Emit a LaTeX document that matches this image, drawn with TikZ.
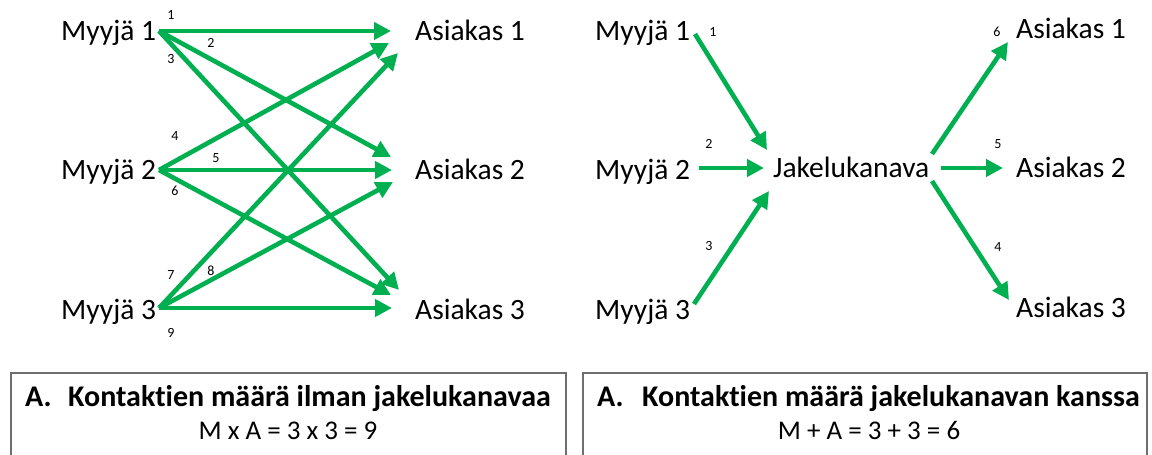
\documentclass[tikz,border=0pt]{standalone}
\usepackage{fontspec}
\setmainfont{Carlito}[Ligatures={NoCommon,NoRequired,NoContextual}]
\usetikzlibrary{arrows.meta}
\definecolor{grn}{RGB}{0,176,80}
\definecolor{boxgray}{RGB}{110,110,110}
\begin{document}
\begin{tikzpicture}[x=1pt,y=-1pt,
  big/.style={font=\fontsize{29.5}{34}\selectfont, anchor=base west, inner sep=0pt},
  num/.style={font=\fontsize{14}{16}\selectfont, inner sep=0pt},
  arr/.style={draw=grn, line width=4.6pt, -{Triangle[length=17pt,width=17pt]}},
  boxline/.style={draw=boxgray, line width=1.2pt},
  head/.style={font=\fontsize{30}{35}\selectfont\bfseries, anchor=base west, inner sep=0pt},
  formula/.style={font=\fontsize{27}{32}\selectfont, anchor=base, inner sep=0pt}
]
\useasboundingbox (0,0) rectangle (1152,455);

% ---------- left panel ----------
\node[big] (lm1) at (61,40) {Myyjä 1};
\node[big] (lm2) at (61,179.5) {Myyjä 2};
\node[big] (lm3) at (61,319) {Myyjä 3};
\node[big] (la1) at (415,40) {Asiakas 1};
\node[big] (la2) at (415,179.5) {Asiakas 2};
\node[big] (la3) at (415,319) {Asiakas 3};

\coordinate (ls1) at (159,31);
\coordinate (ls2) at (159,170);
\coordinate (ls3) at (159,308);
\coordinate (t11) at (391,31);
\coordinate (t12) at (391,157);
\coordinate (t13) at (399,290);
\coordinate (t21) at (389,43);
\coordinate (t22) at (392,170);
\coordinate (t23) at (391,295);
\coordinate (t31) at (398,53);
\coordinate (t32) at (393,182);
\coordinate (t33) at (392,308);

\draw[arr] (ls1) -- (t11);
\draw[arr] (ls1) -- (t12);
\draw[arr] (ls1) -- (t13);
\draw[arr] (ls2) -- (t21);
\draw[arr] (ls2) -- (t22);
\draw[arr] (ls2) -- (t23);
\draw[arr] (ls3) -- (t31);
\draw[arr] (ls3) -- (t32);
\draw[arr] (ls3) -- (t33);

\node[num] (n1) at (171,15) {1};
\node[num] (n2) at (211,43) {2};
\node[num] (n3) at (171,59) {3};
\node[num] (n4) at (175,136) {4};
\node[num] (n5) at (216,158) {5};
\node[num] (n6) at (175,191) {6};
\node[num] (n7) at (171,275) {7};
\node[num] (n8) at (211,271) {8};
\node[num] (n9) at (171,333) {9};

% ---------- right panel ----------
\node[big] (rm1) at (595,40) {Myyjä 1};
\node[big] (rm2) at (595,179.5) {Myyjä 2};
\node[big] (rm3) at (595,319) {Myyjä 3};
\node[big] (jk) at (773,177.5) {Jakelukanava};
\node[big] (ra1) at (1016,38.5) {Asiakas 1};
\node[big] (ra2) at (1016,177.5) {Asiakas 2};
\node[big] (ra3) at (1016,317.5) {Asiakas 3};

\coordinate (rs1) at (695,34);
\coordinate (rs2) at (699,168);
\coordinate (rs3) at (694,304);
\coordinate (ri1) at (767,150);
\coordinate (ri2) at (764,168);
\coordinate (ri3) at (769,191);
\coordinate (os1) at (932,154);
\coordinate (os2) at (941,168);
\coordinate (os3) at (932,181);
\coordinate (ot1) at (1008,42);
\coordinate (ot2) at (1003,168);
\coordinate (ot3) at (1009,300);

\draw[arr] (rs1) -- (ri1);
\draw[arr] (rs2) -- (ri2);
\draw[arr] (rs3) -- (ri3);
\draw[arr] (os1) -- (ot1);
\draw[arr] (os2) -- (ot2);
\draw[arr] (os3) -- (ot3);

\node[num] (q1) at (713,32) {1};
\node[num] (q2) at (709,144) {2};
\node[num] (q3) at (709,246) {3};
\node[num] (q6) at (997,32) {6};
\node[num] (q5) at (998,144) {5};
\node[num] (q4) at (998,247) {4};

% ---------- bottom boxes ----------
\draw[boxline] (11,456) -- (11,373) -- (566,373) -- (566,456);
\draw[boxline] (583,456) -- (583,373) -- (1147,373) -- (1147,456);

\node[head] (la) at (25,406) {A.};
\node[head] (lt) at (68,406) {Kontaktien määrä ilman jakelukanavaa};
\node[formula] (lf) at (288,439.5) {M x A = 3 x 3 = 9};

\node[head] (ra) at (597,406) {A.};
\node[head] (rt) at (642,406) {Kontaktien määrä jakelukanavan kanssa};
\node[formula] (rf) at (869,439.5) {M + A = 3 + 3 = 6};
\end{tikzpicture}
\end{document}
